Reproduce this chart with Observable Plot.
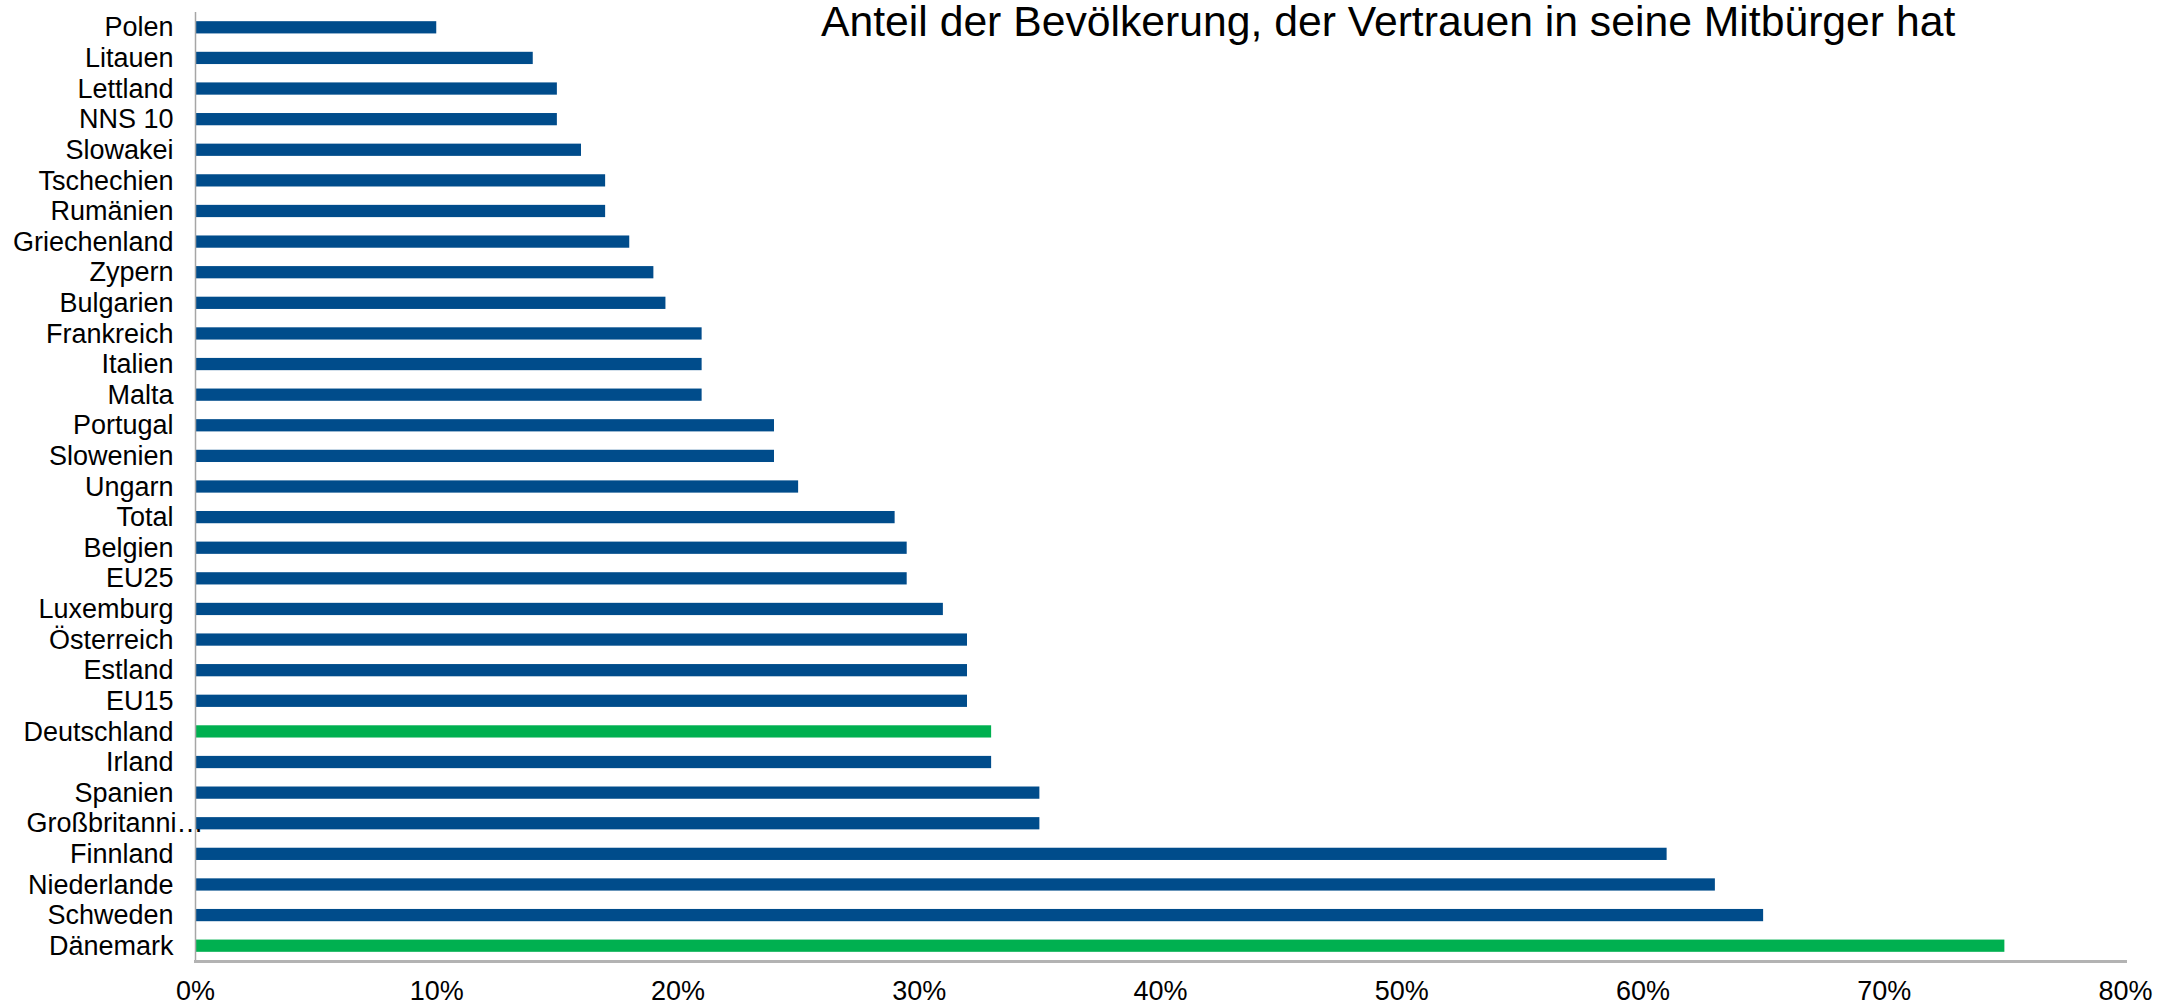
<!DOCTYPE html>
<html>
<head>
<meta charset="utf-8">
<script src="https://cdn.jsdelivr.net/npm/d3@7"></script>
<script src="https://cdn.jsdelivr.net/npm/@observablehq/plot@0.6"></script>
<style>
  html, body { margin: 0; padding: 0; background: #fff; }
  #wrap { position: relative; width: 2158px; height: 1007px; }
  #title {
    position: absolute; left: 821px; top: 0px;
    font-family: "Liberation Sans", Arial, sans-serif;
    font-size: 42.7px; line-height: 43px; color: #000; white-space: nowrap;
  }
</style>
</head>
<body>
<div id="wrap">
  <div id="chart"></div>
  <div id="title">Anteil der Bevölkerung, der Vertrauen in seine Mitbürger hat</div>
</div>
<script>
const categories = ["Polen","Litauen","Lettland","NNS 10","Slowakei","Tschechien","Rumänien","Griechenland","Zypern","Bulgarien","Frankreich","Italien","Malta","Portugal","Slowenien","Ungarn","Total","Belgien","EU25","Luxemburg","Österreich","Estland","EU15","Deutschland","Irland","Spanien","Großbritannien","Finnland","Niederlande","Schweden","Dänemark"];
const values = [10,14,15,15,16,17,17,18,19,19.5,21,21,21,24,24,25,29,29.5,29.5,31,32,32,32,33,33,35,35,61,63,65,75];
const highlighted = ["Deutschland","Dänemark"];
const tickValues = [0,10,20,30,40,50,60,70,80];
const tickLabels = ["0%","10%","20%","30%","40%","50%","60%","70%","80%"];
const truncated = ["Großbritannien"];
const truncatedText = ["Großbritanni…"];

const data = categories.map((c, i) => ({name: c, value: values[i]}));
const truncData = truncated.map((c, i) => ({name: c, label: truncatedText[i]}));

const chart = Plot.plot({
  width: 2158,
  height: 1007,
  marginLeft: 195,
  marginRight: 33,
  marginTop: 12,
  marginBottom: 46,
  style: {fontFamily: "Liberation Sans, Arial, sans-serif", fontSize: "27px", color: "#000", background: "#fff"},
  x: {domain: [0, 80]},
  y: {domain: categories, paddingInner: 0.6, paddingOuter: 0.3, round: false},
  marks: [
    Plot.barX(data, {x: "value", y: "name", fill: d => highlighted.includes(d.name) ? "#00B050" : "#004C8B"}),
    Plot.ruleX([0], {stroke: "#a6a6a6", strokeWidth: 1.5}),
    Plot.frame({anchor: "bottom", stroke: "#b3b3b3", strokeWidth: 3}),
    Plot.axisX({ticks: tickValues, tickFormat: d => tickLabels[tickValues.indexOf(d)], tickSize: 0, tickPadding: 19, fontSize: 27, label: null}),
    Plot.axisY({tickSize: 0, tickPadding: 22, fontSize: 27, label: null, tickFormat: d => truncated.includes(d) ? "" : d}),
    Plot.text(truncData, {y: "name", text: "label", frameAnchor: "left", textAnchor: "start", dx: -169, fontSize: 27, fill: "#000"})
  ]
});
document.getElementById("chart").appendChild(chart);
</script>
</body>
</html>
